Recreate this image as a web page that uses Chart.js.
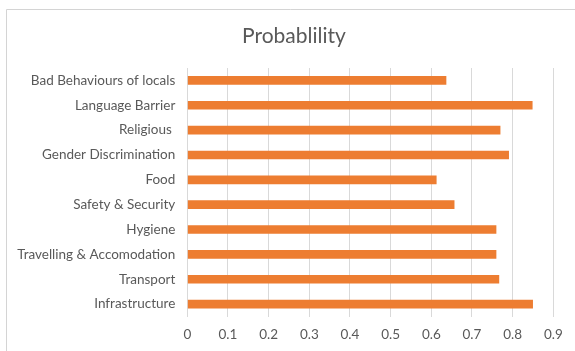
<!DOCTYPE html>
<html>
<head>
<meta charset="utf-8">
<script src="https://cdn.jsdelivr.net/npm/chart.js@4/dist/chart.umd.min.js"></script>
<style>
  html, body { margin: 0; padding: 0; background: #ffffff; }
  #wrap { width: 575px; height: 351px; position: relative; }
</style>
</head>
<body>
<div id="wrap"><canvas id="c" width="575" height="351"></canvas></div>
<script>
const categories = [
  "Bad Behaviours of locals",
  "Language Barrier",
  "Religious ",
  "Gender Discrimination",
  "Food",
  "Safety & Security",
  "Hygiene",
  "Travelling & Accomodation",
  "Transport",
  "Infrastructure"
];
const probability = [0.637, 0.849, 0.770, 0.791, 0.613, 0.657, 0.760, 0.760, 0.767, 0.850];
const xTickMin = 0;
const xTickMax = 0.9;
const xTickStep = 0.1;
const chartTitle = "Probablility";

const framePlugin = {
  id: 'frame',
  afterLayout(chart) {
    if (chart.titleBlock) {
      chart.titleBlock.left = 13;
      chart.titleBlock.right = 575;
    }
  },
  beforeDraw(chart) {
    const ctx = chart.ctx;
    ctx.save();
    ctx.fillStyle = '#ffffff';
    ctx.fillRect(0, 0, chart.width, chart.height);
    ctx.strokeStyle = '#d4d4d4';
    ctx.lineWidth = 1;
    ctx.beginPath();
    ctx.moveTo(6.5, chart.height);
    ctx.lineTo(6.5, 9.5);
    ctx.lineTo(chart.width, 9.5);
    ctx.stroke();
    ctx.restore();
  }
};

new Chart(document.getElementById('c'), {
  type: 'bar',
  data: {
    labels: categories,
    datasets: [{
      label: chartTitle,
      data: probability,
      backgroundColor: '#ED7D31',
      borderWidth: 0,
      categoryPercentage: 1.0,
      barPercentage: 0.35
    }]
  },
  options: {
    indexAxis: 'y',
    responsive: false,
    animation: false,
    layout: { padding: { left: 0, right: 21.7, top: 0, bottom: 0 } },
    plugins: {
      legend: { display: false },
      tooltip: { enabled: false },
      title: {
        display: true,
        text: chartTitle,
        color: '#595959',
        font: { family: 'Lato', size: 21, weight: 'normal' },
        lineHeight: 1.2,
        padding: { top: 24, bottom: 18.8 }
      }
    },
    scales: {
      x: {
        min: xTickMin,
        max: xTickMax,
        ticks: {
          stepSize: xTickStep,
          color: '#595959',
          font: { family: 'Lato', size: 13.5 },
          padding: 10,
          callback: (v) => Math.round(v * 10) / 10
        },
        grid: { color: '#d9d9d9', drawTicks: false, lineWidth: 1 },
        border: { display: false },
        afterFit(scale) { scale.height = 34.5; }
      },
      y: {
        ticks: {
          color: '#595959',
          font: { family: 'Lato', size: 13.5 },
          padding: 12
        },
        grid: { display: false, drawTicks: false },
        border: { display: false },
        afterFit(scale) { scale.width = 187.3; }
      }
    }
  },
  plugins: [framePlugin]
});
</script>
</body>
</html>
